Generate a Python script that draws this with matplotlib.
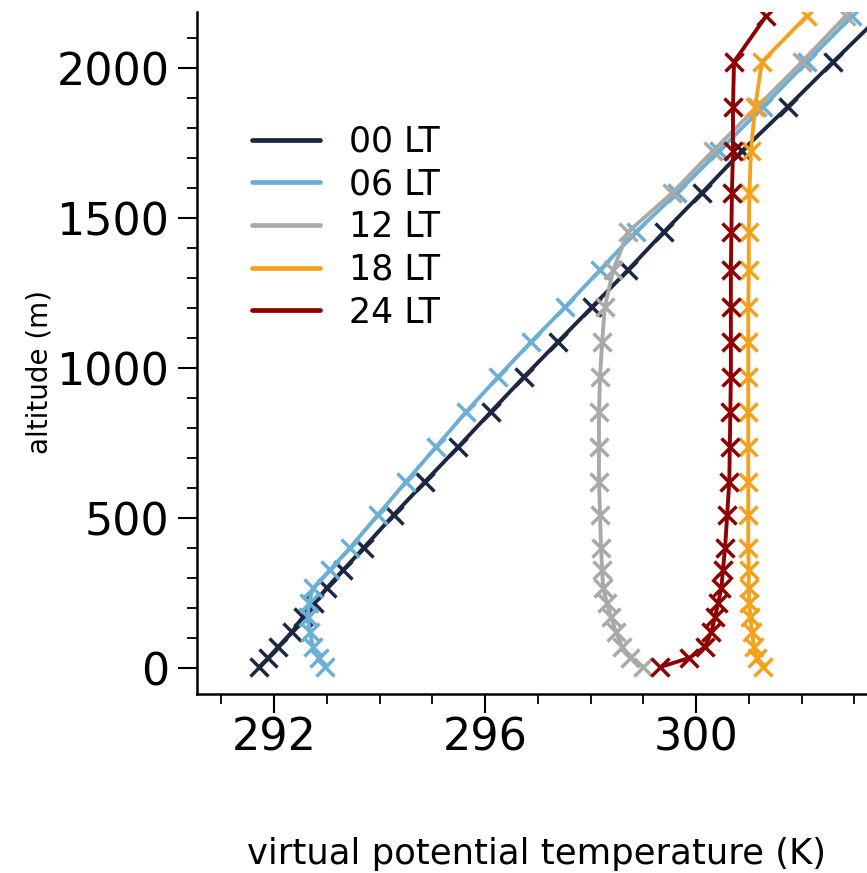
import matplotlib
matplotlib.use('Agg')
import matplotlib.pyplot as plt
from matplotlib.lines import Line2D
from matplotlib.ticker import MultipleLocator

# model levels (m)
altitude = [2175, 2022, 1872, 1725, 1585, 1455, 1328, 1205, 1088, 972, 855, 738,
            622, 512, 402, 328, 268, 218, 172, 122, 72, 35, 5]

# virtual potential temperature (K) per local time
theta_00 = [303.49, 302.60, 301.74, 300.87, 300.11, 299.39, 298.71, 298.03, 297.38,
            296.74, 296.11, 295.49, 294.86, 294.27, 293.70, 293.31, 293.00, 292.76,
            292.55, 292.34, 292.08, 291.89, 291.72]
theta_06 = [302.96, 302.10, 301.27, 300.44, 299.64, 298.86, 298.18, 297.52, 296.87,
            296.25, 295.64, 295.07, 294.50, 293.97, 293.44, 293.06, 292.74, 292.66,
            292.64, 292.68, 292.74, 292.85, 292.97]
theta_12 = [302.84, 302.01, 301.16, 300.32, 299.55, 298.71, 298.43, 298.27, 298.22,
            298.18, 298.16, 298.16, 298.16, 298.18, 298.20, 298.22, 298.24, 298.31,
            298.39, 298.48, 298.60, 298.75, 299.00]
theta_18 = [302.10, 301.25, 301.12, 301.04, 301.01, 301.00, 301.00, 300.99, 300.99,
            300.99, 300.99, 300.99, 300.99, 300.99, 300.99, 301.00, 301.00, 301.01,
            301.03, 301.06, 301.10, 301.16, 301.27]
theta_24 = [301.33, 300.72, 300.70, 300.70, 300.68, 300.67, 300.66, 300.66, 300.66,
            300.66, 300.65, 300.64, 300.63, 300.59, 300.55, 300.51, 300.48, 300.42,
            300.36, 300.29, 300.17, 299.87, 299.32]

labels = ['00 LT', '06 LT', '12 LT', '18 LT', '24 LT']
colors = ['#1c2841', '#6baed6', '#a9a9a9', '#f4a11d', '#8f0000']
series = [theta_00, theta_06, theta_12, theta_18, theta_24]

W, H = 867, 873
fig = plt.figure(figsize=(W / 100, H / 100), dpi=100)
# axes runs a little past the right edge of the figure, like the original crop
ax = fig.add_axes([196.7 / W, 179 / H, (877 - 196.7) / W, (873 - 179 - 12) / H])

for th, c in zip(series, colors):
    ax.plot(th, altitude, color=c, lw=2.8, marker='x', ms=12.5, mew=2.5)

ax.set_xlim(290.535, 303.43)
ax.set_ylim(-85, 2188)

ax.xaxis.set_major_locator(MultipleLocator(4))
ax.xaxis.set_minor_locator(MultipleLocator(1))
ax.yaxis.set_major_locator(MultipleLocator(500))
ax.yaxis.set_minor_locator(MultipleLocator(100))

for s in ['top', 'right']:
    ax.spines[s].set_visible(False)
for s in ['left', 'bottom']:
    ax.spines[s].set_linewidth(1.8)

ax.tick_params(which='major', direction='out', length=13.5, width=1.5, labelsize=32)
ax.tick_params(which='minor', direction='out', length=7.5, width=1.3)
ax.tick_params(axis='y', which='major', pad=6)
ax.tick_params(axis='x', which='major', pad=3)

ax.set_xlabel('virtual potential temperature (K)', fontsize=25.5)
ax.xaxis.set_label_coords(0.5, -0.21)
ax.set_ylabel('altitude (m)', fontsize=20)
ax.yaxis.set_label_coords(-0.21, (694 - 372) / (694 - 12))

handles = [Line2D([0], [0], color=c, lw=3.4, solid_capstyle='round') for c in colors]
ax.legend(handles, labels, loc='upper left', frameon=False, fontsize=25,
          handlelength=1.95, handletextpad=0.85, labelspacing=0.25,
          borderaxespad=0, bbox_to_anchor=(238 / W, (873 - 111) / H),
          bbox_transform=fig.transFigure)

plt.savefig('out.png', dpi=100)
plt.close()
